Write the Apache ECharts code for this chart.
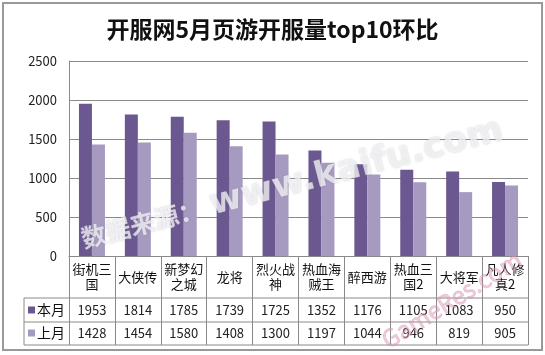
<!DOCTYPE html>
<html>
<head>
<meta charset="utf-8">
<script src="https://cdn.jsdelivr.net/npm/echarts@6/dist/echarts.min.js"></script>
<style>
  html, body { margin: 0; padding: 0; background: #fff; }
  #main { width: 545px; height: 355px; }
</style>
</head>
<body>
<div id="main"></div>
<script>
var categories = ['街机三国', '大侠传', '新梦幻之城', '龙将', '烈火战神', '热血海贼王', '醉西游', '热血三国2', '大将军', '凡人修真2'];
var thisMonth = [1953, 1814, 1785, 1739, 1725, 1352, 1176, 1105, 1083, 950];
var lastMonth = [1428, 1454, 1580, 1408, 1300, 1197, 1044, 946, 819, 905];
var yTicks = [0, 500, 1000, 1500, 2000, 2500];

var font = '"Noto Sans CJK SC", "Noto Sans", sans-serif';
var gridColor = '#8a8a8a';

var myChart = echarts.init(document.getElementById('main'));

// table row axes: values printed under each category
function rowAxis(values, margin) {
    return {
        type: 'category',
        gridIndex: 0,
        position: 'bottom',
        data: categories,
        axisLine: { show: false },
        axisTick: { show: false },
        axisLabel: {
            interval: 0,
            margin: margin,
            verticalAlign: 'middle',
            fontSize: 13,
            color: '#222',
            fontFamily: font,
            formatter: function (v, i) { return String(values[i]); }
        }
    };
}

myChart.setOption({
    backgroundColor: '#fff',
    animation: false,
    title: {
        text: '开服网5月页游开服量top10环比',
        left: 'center',
        top: 13,
        textStyle: { fontSize: 23, fontWeight: 'bold', color: '#111', fontFamily: font }
    },
    legend: {
        orient: 'vertical',
        left: 28,
        top: 303,
        padding: 0,
        itemWidth: 7,
        itemHeight: 7,
        itemGap: 9,
        icon: 'rect',
        data: ['本月', '上月'],
        textStyle: { fontSize: 14, lineHeight: 14, color: '#111', fontFamily: font, padding: [0, 0, 0, -3] }
    },
    grid: { left: 69, right: 17, top: 61, height: 195 },
    xAxis: [{
        type: 'category',
        data: categories,
        axisLine: { lineStyle: { color: gridColor } },
        axisTick: { show: true, length: 89, lineStyle: { color: gridColor } },
        axisLabel: {
            interval: 0,
            margin: 21,
            verticalAlign: 'middle',
            fontSize: 13,
            lineHeight: 15,
            color: '#111',
            fontFamily: font,
            formatter: function (v) {
                return v.length > 3 ? v.slice(0, 3) + '\n' + v.slice(3) : v;
            }
        }
    }, rowAxis(thisMonth, 54), rowAxis(lastMonth, 77)],
    yAxis: {
        type: 'value',
        min: yTicks[0],
        max: yTicks[yTicks.length - 1],
        interval: 500,
        axisLine: { show: true, lineStyle: { color: gridColor } },
        axisTick: { show: false },
        axisLabel: {
            margin: 12, fontSize: 13, color: '#222', fontFamily: font,
            formatter: function (v) { return String(v); }
        },
        splitLine: { lineStyle: { color: gridColor } }
    },
    series: [{
        name: '本月',
        type: 'bar',
        barWidth: 13,
        barGap: '0%',
        color: '#6c5890',
        data: thisMonth
    }, {
        name: '上月',
        type: 'bar',
        barWidth: 13,
        barGap: '0%',
        color: '#a69ac0',
        data: lastMonth
    }],
    graphic: [
        { type: 'rect', shape: { x: 3, y: 3, width: 539, height: 347 }, style: { fill: 'none', stroke: '#999', lineWidth: 2 }, silent: true },
        { type: 'line', shape: { x1: 24, y1: 298, x2: 528, y2: 298 }, style: { stroke: gridColor, lineWidth: 1 } },
        { type: 'line', shape: { x1: 24, y1: 322, x2: 528, y2: 322 }, style: { stroke: gridColor, lineWidth: 1 } },
        { type: 'line', shape: { x1: 24, y1: 345, x2: 528, y2: 345 }, style: { stroke: gridColor, lineWidth: 1 } },
        { type: 'line', shape: { x1: 24, y1: 298, x2: 24, y2: 345 }, style: { stroke: gridColor, lineWidth: 1 } },
        // watermarks
        {
            type: 'text', x: 86, y: 256, rotation: 14.5 * Math.PI / 180, z: 100,
            style: {
                text: '{a|数据来源：}{b|www.kaifu.com}',
                verticalAlign: 'bottom',
                rich: {
                    a: { fontSize: 25, fontWeight: 'bold', fontFamily: font, fill: 'rgba(255,255,255,0.7)',
                         textShadowColor: 'rgba(120,120,140,0.6)', textShadowBlur: 2, padding: [0, 8, 0, 0] },
                    b: { fontSize: 35, fontWeight: 'bold', fontFamily: '"DejaVu Sans", sans-serif', fill: 'rgba(255,255,255,0.7)',
                         textShadowColor: 'rgba(120,120,140,0.6)', textShadowBlur: 2 }
                }
            }
        },
        {
            type: 'text', x: 390, y: 352, rotation: 32 * Math.PI / 180, z: 100,
            style: {
                text: 'GameRes.com', fontSize: 24, fontFamily: font,
                fill: 'rgba(225,160,190,0.5)', stroke: 'rgba(190,110,150,0.35)', lineWidth: 0.8,
                verticalAlign: 'bottom'
            }
        }
    ]
});
</script>
</body>
</html>
